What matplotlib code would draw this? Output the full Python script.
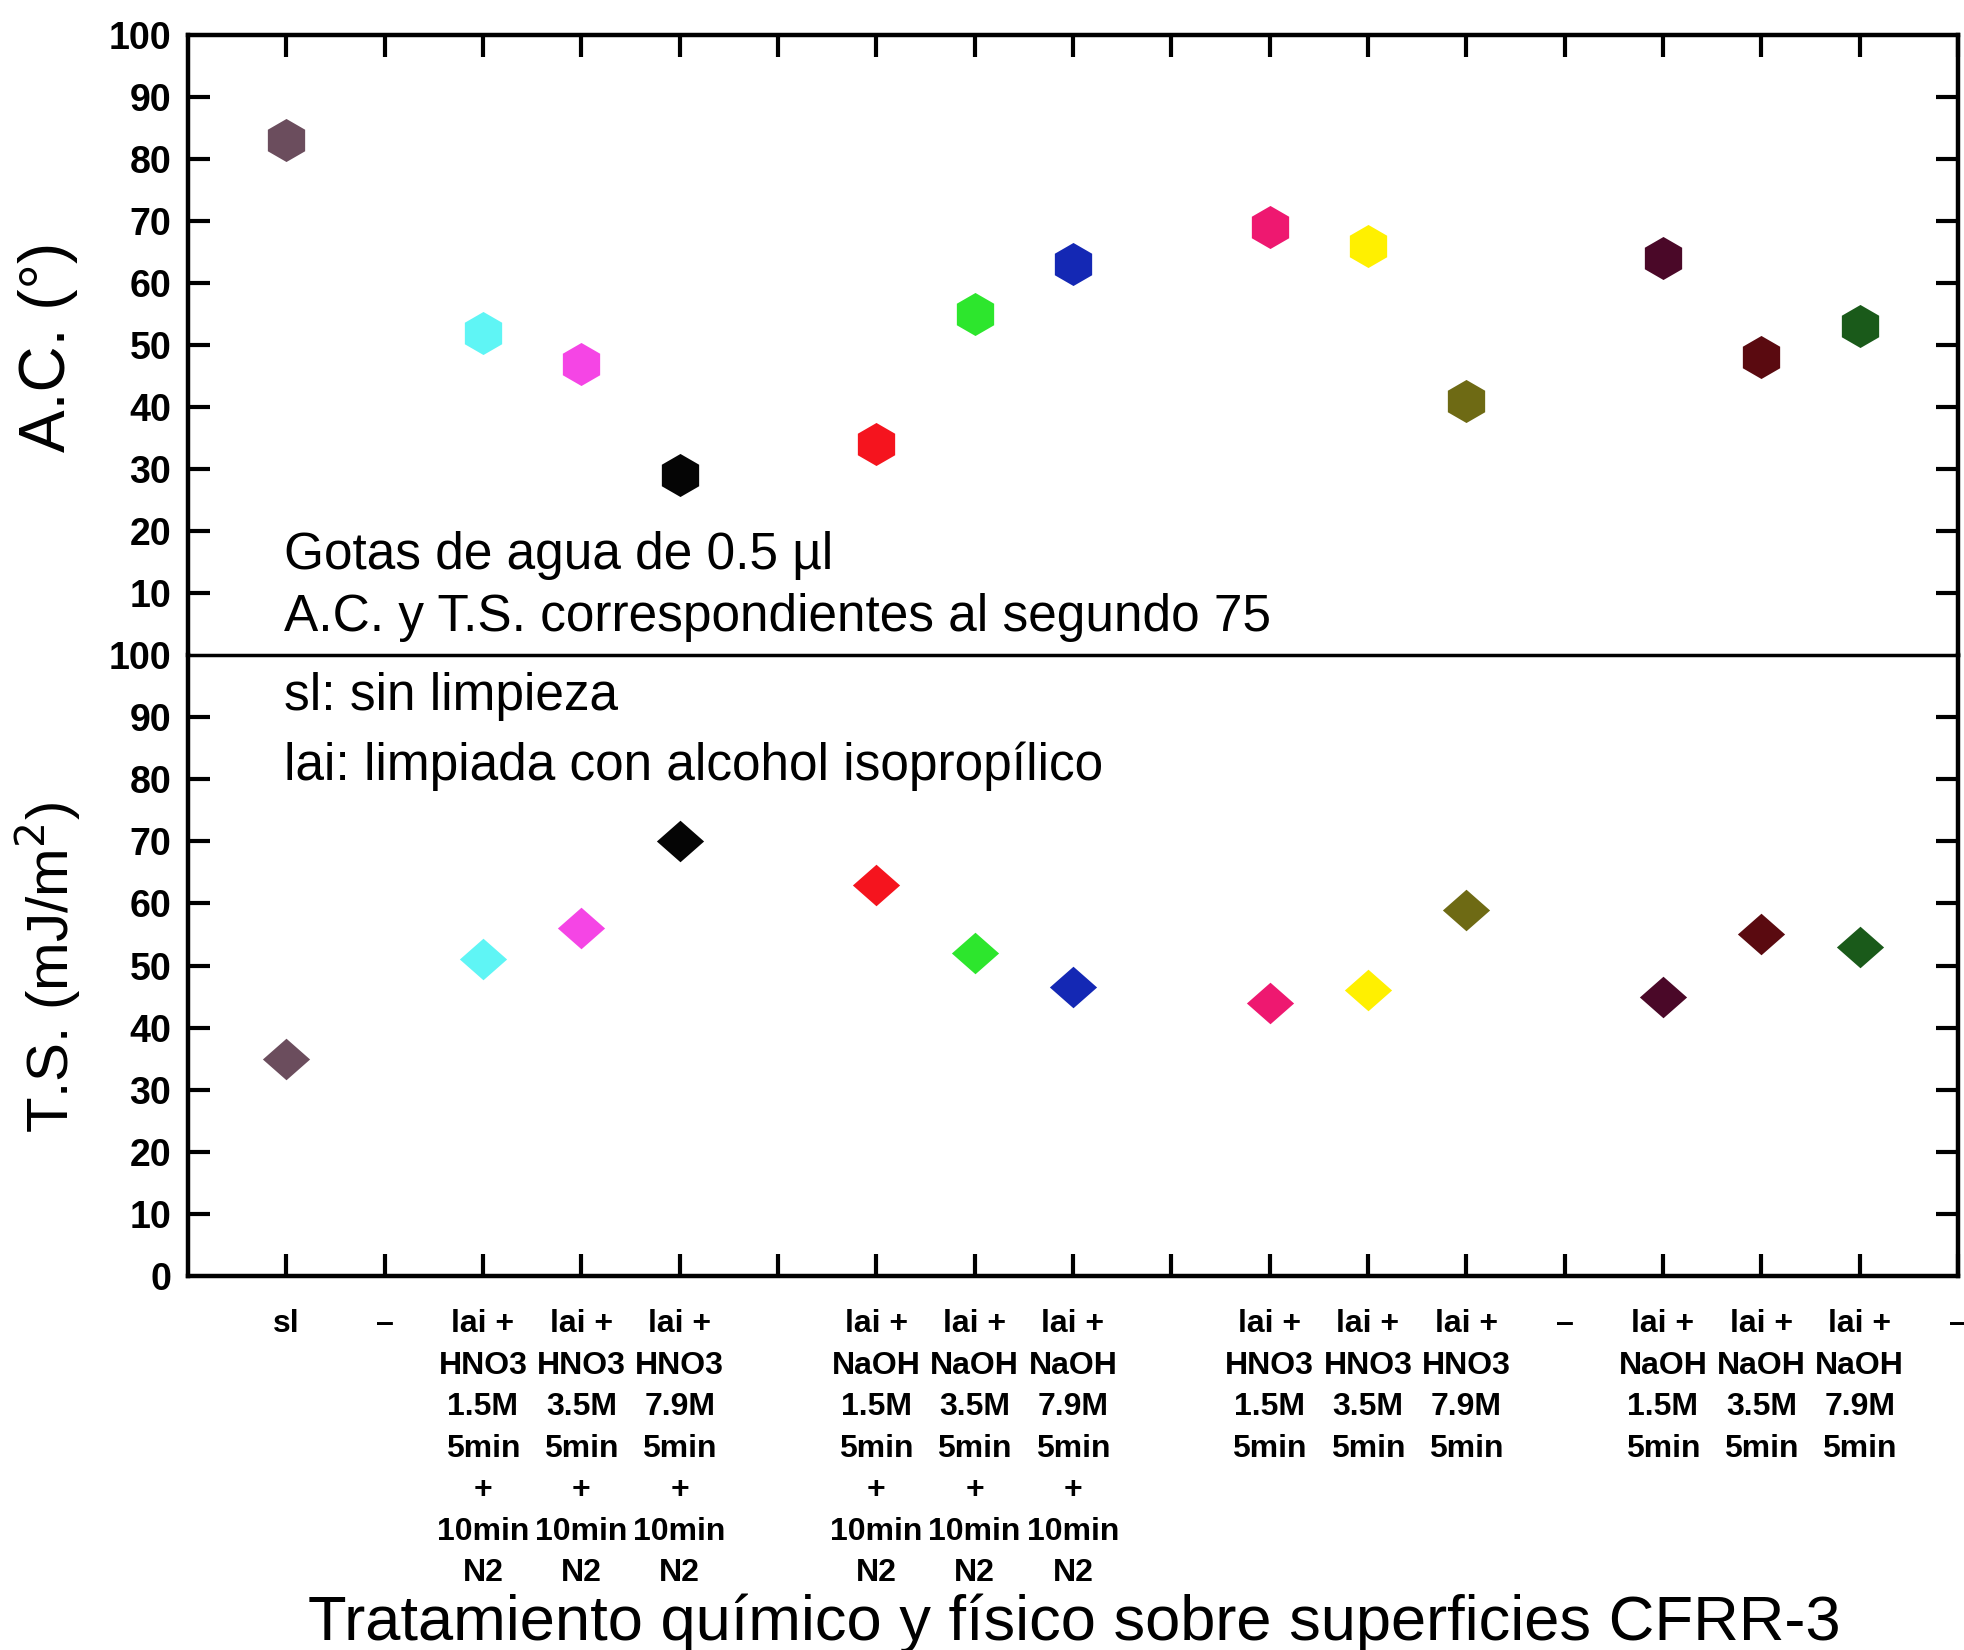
import matplotlib
matplotlib.use("Agg")
import matplotlib.pyplot as plt

plt.rcParams['font.family'] = ['Liberation Sans', 'DejaVu Sans']

# Category positions along x (17 slots plus right edge slot 18)
positions = [1, 3, 4, 5, 7, 8, 9, 11, 12, 13, 15, 16, 17]

# Contact angle (A.C., degrees) for each treatment
angulo_contacto = [83, 52, 47, 29, 34, 55, 63, 69, 66, 41, 64, 48, 53]

# Surface tension (T.S., mJ/m^2) for each treatment
tension_superficial = [35, 51, 56, 70, 63, 52, 46.5, 44, 46, 59, 45, 55, 53]

colores = ['#6b4d5d', '#5ff5f5', '#f545e5', '#050505', '#f5141e', '#2de62d',
           '#1428b4', '#ee1870', '#fff000', '#6e6a14', '#4a0828', '#5a0a10',
           '#1a5a1a']

tick_pos = list(range(1, 19))
tick_labels = [
    'sl', '–',
    'lai +\nHNO3\n1.5M\n5min\n+\n10min\nN2',
    'lai +\nHNO3\n3.5M\n5min\n+\n10min\nN2',
    'lai +\nHNO3\n7.9M\n5min\n+\n10min\nN2',
    '',
    'lai +\nNaOH\n1.5M\n5min\n+\n10min\nN2',
    'lai +\nNaOH\n3.5M\n5min\n+\n10min\nN2',
    'lai +\nNaOH\n7.9M\n5min\n+\n10min\nN2',
    '',
    'lai +\nHNO3\n1.5M\n5min',
    'lai +\nHNO3\n3.5M\n5min',
    'lai +\nHNO3\n7.9M\n5min',
    '–',
    'lai +\nNaOH\n1.5M\n5min',
    'lai +\nNaOH\n3.5M\n5min',
    'lai +\nNaOH\n7.9M\n5min',
    '–',
]

W, H = 1965, 1650
fig = plt.figure(figsize=(W / 100, H / 100), dpi=100)
left, right = 188 / W, 1958 / W
top, mid, bottom = 1 - 35 / H, 1 - 655 / H, 1 - 1276 / H
ax_top = fig.add_axes([left, mid, right - left, top - mid])
ax_bot = fig.add_axes([left, bottom, right - left, mid - bottom])

diamond = [(-1, 0), (0, 0.88), (1, 0), (0, -0.88), (-1, 0)]

for x, ac, ts, c in zip(positions, angulo_contacto, tension_superficial, colores):
    ax_top.plot(x, ac, marker='h', markersize=31, color=c, markeredgewidth=0,
                linestyle='none', zorder=3)
    ax_bot.plot(x, ts, marker=diamond, markersize=34, color=c, markeredgewidth=0,
                linestyle='none', zorder=3)

tick_font = dict(family='Liberation Sans', weight='bold')

for ax in (ax_top, ax_bot):
    ax.set_xlim(0, 18)
    ax.set_ylim(0, 100)
    for s in ax.spines.values():
        s.set_linewidth(3.2)
    ax.tick_params(axis='both', direction='in', length=16, width=3,
                   left=True, right=True)
    ax.set_xticks(tick_pos)

ax_top.spines['bottom'].set_visible(False)
ax_bot.spines['top'].set_linewidth(2.5)

ax_top.tick_params(axis='x', top=True, bottom=False, labelbottom=False, labeltop=False)
ax_top.set_yticks(range(10, 101, 10))
ax_top.set_yticklabels([str(v) for v in range(10, 101, 10)], fontsize=27, **tick_font)
ax_top.tick_params(axis='y', pad=12)

ax_bot.tick_params(axis='x', top=False, bottom=True, pad=24)
ax_bot.set_xticklabels(tick_labels, fontsize=23, linespacing=1.5, va='top', **tick_font)
for lab in ax_bot.get_xticklabels():
    lab.set_multialignment('center')
ax_bot.set_yticks(range(0, 101, 10))
ax_bot.set_yticklabels([str(v) for v in range(0, 101, 10)], fontsize=27, **tick_font)
ax_bot.tick_params(axis='y', pad=12)

# no tick marks where the two panels meet, nor at the corners
ax_top.yaxis.get_major_ticks()[-1].tick1line.set_visible(False)
ax_top.yaxis.get_major_ticks()[-1].tick2line.set_visible(False)
ax_bot.yaxis.get_major_ticks()[-1].tick1line.set_visible(False)
ax_bot.yaxis.get_major_ticks()[-1].tick2line.set_visible(False)
ax_bot.yaxis.get_major_ticks()[0].tick1line.set_visible(False)
ax_bot.yaxis.get_major_ticks()[0].tick2line.set_visible(False)

fig.text(48 / W, 1 - 347 / H, 'A.C. (°)', rotation=90, fontsize=46,
         ha='center', va='center')
fig.text(48 / W, 1 - 967 / H, 'T.S. (mJ/m$^2$)', rotation=90, fontsize=42,
         ha='center', va='center')

notas = [
    ('Gotas de agua de 0.5 µl', 555),
    ('A.C. y T.S. correspondientes al segundo 75', 618),
    ('sl: sin limpieza', 696),
    ('lai: limpiada con alcohol isopropílico', 766),
]
for texto, yp in notas:
    fig.text(284 / W, 1 - yp / H, texto, fontsize=37, ha='left', va='center')

fig.text(1074 / W, 1 - 1623 / H,
         'Tratamiento químico y físico sobre superficies CFRR-3',
         fontsize=45.5, ha='center', va='center')

fig.savefig('out.png', dpi=100, facecolor='white')
